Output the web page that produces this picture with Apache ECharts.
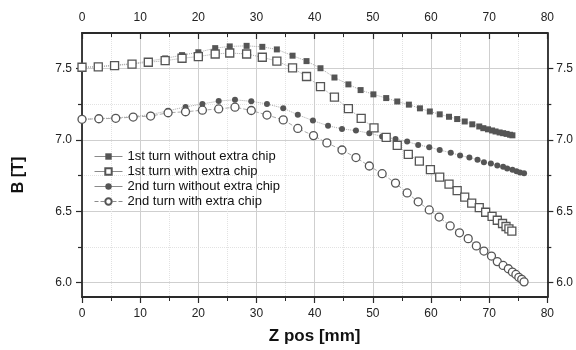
<!DOCTYPE html>
<html>
<head>
<meta charset="utf-8">
<script src="https://cdn.jsdelivr.net/npm/echarts@6/dist/echarts.min.js"></script>
<style>
    html, body { margin: 0; padding: 0; background: #fff; }
    #chart { width: 576px; height: 350px; }
</style>
</head>
<body>
<div id="chart"></div>
<script>
// 1st turn without extra chip (filled squares)
const turn1Plain = [
    [0, 7.51], [2.8, 7.515], [5.6, 7.525], [8.6, 7.535], [11.4, 7.553], [14.3, 7.572], [17.2, 7.595],
    [20.0, 7.615], [22.9, 7.644], [25.4, 7.656], [28.3, 7.660], [31.0, 7.653], [33.5, 7.635],
    [36.2, 7.591], [38.6, 7.553], [41.0, 7.503], [43.4, 7.438], [45.8, 7.39], [47.9, 7.35],
    [50.1, 7.32], [52.3, 7.294], [54.2, 7.27], [56.2, 7.248], [58.1, 7.222], [59.8, 7.20],
    [61.5, 7.18], [63.1, 7.163], [64.5, 7.147], [65.8, 7.13], [67.1, 7.11], [68.3, 7.095],
    [69.0, 7.083], [69.8, 7.075], [70.5, 7.067], [71.1, 7.06], [71.8, 7.053], [72.4, 7.048],
    [73.0, 7.043], [73.6, 7.037], [74.0, 7.033]
];

// 1st turn with extra chip (open squares)
const turn1Chip = [
    [0, 7.51], [2.8, 7.512], [5.6, 7.522], [8.6, 7.532], [11.4, 7.545], [14.3, 7.556], [17.2, 7.573],
    [20.0, 7.585], [22.9, 7.603], [25.4, 7.61], [28.3, 7.603], [31.0, 7.58], [33.5, 7.553],
    [36.2, 7.505], [38.6, 7.445], [41.0, 7.374], [43.4, 7.30], [45.8, 7.22], [48.0, 7.152],
    [50.2, 7.085], [52.3, 7.019], [54.2, 6.962], [56.1, 6.90], [58.0, 6.852], [59.9, 6.792],
    [61.5, 6.74], [63.1, 6.691], [64.5, 6.646], [65.8, 6.60], [67.0, 6.558], [68.3, 6.526],
    [69.4, 6.494], [70.5, 6.465], [71.4, 6.438], [72.3, 6.415], [72.9, 6.394], [73.4, 6.378],
    [73.9, 6.362]
];

// 2nd turn without extra chip (filled circles)
const turn2Plain = [
    [0, 7.145], [2.9, 7.15], [5.8, 7.155], [8.8, 7.165], [11.8, 7.178], [14.8, 7.205], [17.8, 7.232],
    [20.7, 7.253], [23.5, 7.273], [26.3, 7.282], [29.1, 7.271], [31.8, 7.253], [34.6, 7.223],
    [37.1, 7.177], [39.7, 7.136], [42.3, 7.10], [44.7, 7.078], [47.1, 7.066], [49.4, 7.048],
    [51.6, 7.025], [53.9, 7.007], [55.9, 6.989], [57.8, 6.966], [59.7, 6.95], [61.5, 6.93],
    [63.4, 6.911], [65.0, 6.892], [66.6, 6.877], [68.0, 6.862], [69.1, 6.845], [70.3, 6.835],
    [71.4, 6.822], [72.4, 6.812], [73.1, 6.80], [74.0, 6.792], [74.7, 6.782], [75.3, 6.772],
    [76.0, 6.767]
];

// 2nd turn with extra chip (open circles)
const turn2Chip = [
    [0, 7.145], [2.9, 7.149], [5.8, 7.152], [8.8, 7.161], [11.8, 7.168], [14.8, 7.191], [17.8, 7.198],
    [20.7, 7.209], [23.5, 7.218], [26.3, 7.23], [29.1, 7.207], [31.8, 7.175], [34.6, 7.141],
    [37.1, 7.081], [39.8, 7.031], [42.1, 6.98], [44.7, 6.93], [47.1, 6.877], [49.4, 6.818],
    [51.6, 6.764], [53.9, 6.698], [55.9, 6.629], [57.8, 6.567], [59.7, 6.51], [61.4, 6.46],
    [63.3, 6.398], [64.9, 6.35], [66.4, 6.309], [67.8, 6.258], [69.1, 6.222], [70.4, 6.187],
    [71.4, 6.148], [72.4, 6.121], [73.3, 6.098], [74.0, 6.075], [74.6, 6.058], [75.1, 6.038],
    [75.6, 6.024], [76.0, 6.006]
];

const seriesNames = [
    '1st turn without extra chip',
    '1st turn with extra chip',
    '2nd turn without extra chip',
    '2nd turn with extra chip'
];

const yMajor = [6.0, 6.5, 7.0, 7.5];
const yMinor = [6.25, 6.75, 7.25];

const FONT = '"Liberation Sans", Arial, sans-serif';
const axisColor = '#2a2a2a';
const markColor = '#555';

const xAxisBase = (position) => ({
    type: 'value',
    position: position,
    min: 0,
    max: 80,
    interval: 10,
    axisLine: { show: true, onZero: false, lineStyle: { color: axisColor, width: 1.8 } },
    axisTick: { show: true, inside: position === 'top', length: 6, lineStyle: { color: axisColor, width: 1.2 } },
    minorTick: { show: true, splitNumber: 2, length: 4, lineStyle: { color: axisColor, width: 1 } },
    axisLabel: { fontFamily: FONT, fontSize: 12, color: '#222', margin: position === 'top' ? 9 : 11 },
    splitLine: { show: position === 'bottom', lineStyle: { color: '#cfcfcf', width: 1 } },
    minorSplitLine: { show: position === 'bottom', lineStyle: { color: '#e2e2e2', width: 1, type: 'dotted' } }
});

const yAxisBase = (position, values, major) => ({
    type: 'value',
    position: position,
    min: 5.9,
    max: 7.75,
    axisLine: { show: major, onZero: false, lineStyle: { color: axisColor, width: 1.8 } },
    axisTick: {
        show: true,
        customValues: values,
        length: major ? 6 : 4,
        lineStyle: { color: axisColor, width: 1.2 }
    },
    axisLabel: {
        show: major,
        customValues: values,
        formatter: (v) => v.toFixed(1),
        fontFamily: FONT,
        fontSize: 12,
        color: '#222',
        margin: position === 'left' ? 10 : 9
    },
    splitLine: {
        show: position === 'left',
        lineStyle: major
            ? { color: '#cfcfcf', width: 1 }
            : { color: '#e2e2e2', width: 1, type: 'dotted' }
    }
});

const bottomX = xAxisBase('bottom');
bottomX.name = 'Z pos [mm]';
bottomX.nameLocation = 'middle';
bottomX.nameGap = 31;
bottomX.nameTextStyle = { fontFamily: FONT, fontSize: 17, fontWeight: 'bold', color: '#111' };

const leftY = yAxisBase('left', yMajor, true);
leftY.name = 'B [T]';
leftY.nameLocation = 'middle';
leftY.nameGap = 55;
leftY.nameTextStyle = { fontFamily: FONT, fontSize: 16, fontWeight: 'bold', color: '#111', padding: [0, 20, 0, 0] };

const makeSeries = (name, data, symbol, size, filled, lineType) => ({
    name: name,
    type: 'line',
    xAxisIndex: 0,
    yAxisIndex: 0,
    data: data,
    symbol: symbol,
    symbolSize: size,
    showAllSymbol: true,
    lineStyle: { color: '#aaa', width: 1, type: lineType },
    itemStyle: filled
        ? { color: markColor, borderColor: markColor, borderWidth: 0 }
        : { color: '#fff', borderColor: markColor, borderWidth: 1.3 },
    emphasis: { disabled: true },
    z: filled ? 2 : 3
});

const legendLine = (i) => ({
    name: seriesNames[i],
    lineStyle: { color: '#8a8a8a', width: 1, type: i === 3 ? 'dashed' : 'solid' }
});

const chart = echarts.init(document.getElementById('chart'), null, { renderer: 'canvas' });

chart.setOption({
    animation: false,
    backgroundColor: '#fff',
    grid: {
        left: 82,
        right: 28,
        top: 33,
        bottom: 47,
        containLabel: false
    },
    legend: {
        show: true,
        orient: 'vertical',
        left: 89,
        top: 144,
        itemWidth: 28,
        itemHeight: 8,
        itemGap: 0,
        selectedMode: false,
        textStyle: { fontFamily: FONT, fontSize: 13, color: '#111', lineHeight: 15 },
        data: [0, 1, 2, 3].map(legendLine)
    },
    xAxis: [bottomX, xAxisBase('top')],
    yAxis: [
        leftY,
        yAxisBase('left', yMinor, false),
        yAxisBase('right', yMajor, true),
        yAxisBase('right', yMinor, false)
    ],
    series: [
        makeSeries(seriesNames[0], turn1Plain, 'rect', 6, true, 'dotted'),
        makeSeries(seriesNames[1], turn1Chip, 'rect', 8, false, 'dotted'),
        makeSeries(seriesNames[2], turn2Plain, 'circle', 6, true, 'dotted'),
        makeSeries(seriesNames[3], turn2Chip, 'circle', 8, false, 'dashed')
    ]
});
</script>
</body>
</html>
